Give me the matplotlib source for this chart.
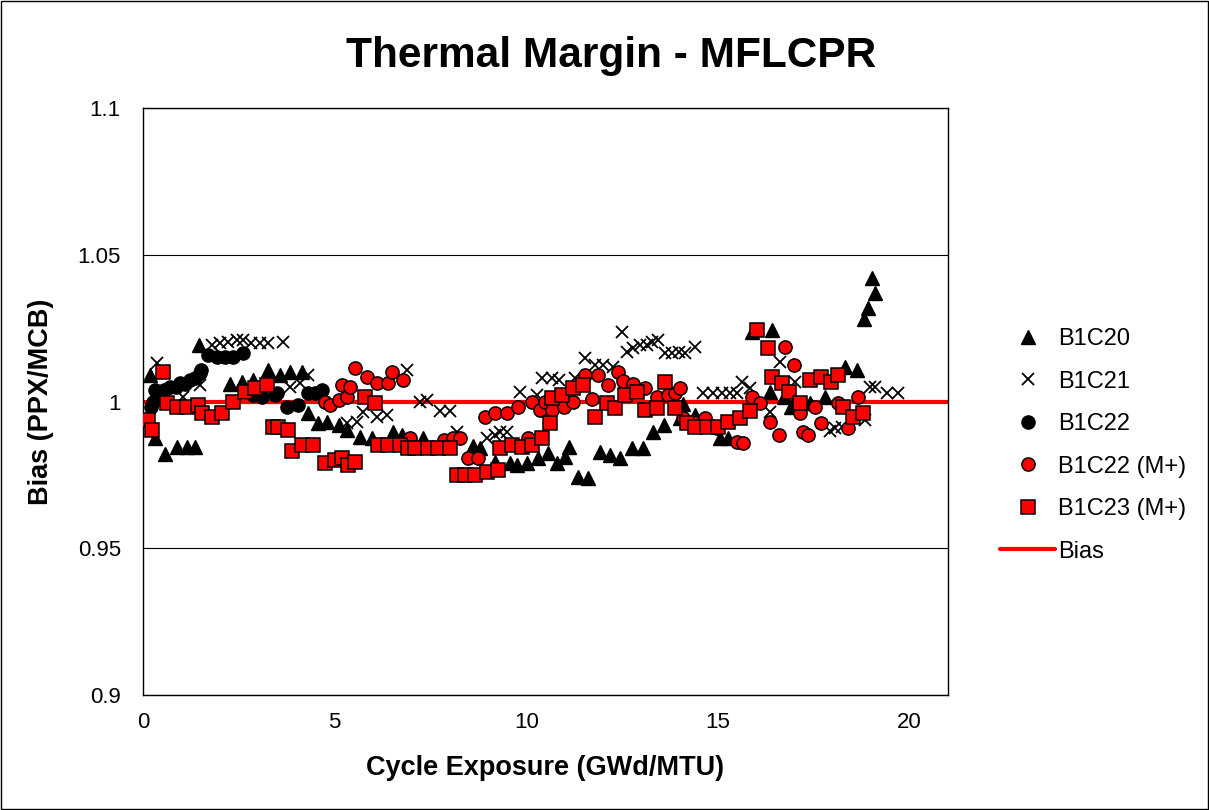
import matplotlib
matplotlib.use("Agg")
import matplotlib.pyplot as plt
from matplotlib.ticker import FuncFormatter, FixedLocator
from matplotlib.patches import Rectangle

plt.rcParams['font.family'] = ['Liberation Sans', 'DejaVu Sans']

# B1C20
x20 = [0.18, 0.31, 0.57, 0.88, 1.14, 1.36, 1.47, 2.27, 2.57, 2.88, 3.27, 3.57, 3.84, 4.14,
       4.31, 4.57, 4.79, 5.10, 5.31, 5.66, 5.97, 6.53, 6.75, 7.31, 8.62, 8.79, 9.18, 9.57,
       9.75, 10.01, 10.31, 10.57, 10.79, 11.01, 11.1, 11.36, 11.62, 11.92, 12.18, 12.44,
       12.75, 13.05, 13.31, 13.58, 14.0, 14.1, 14.4, 15.05, 15.27, 15.88, 16.4, 16.36,
       16.73, 16.9, 17.4, 17.79, 18.31, 18.62, 18.82, 18.92, 19.01, 19.1]
y20 = [1.009, 0.9875, 0.982, 0.9846, 0.9846, 0.9846, 1.0193, 1.0059, 1.0065, 1.0073, 1.0107,
       1.009, 1.0102, 1.0102, 0.996, 0.9926, 0.9931, 0.992, 0.9903, 0.988, 0.9875, 0.9897,
       0.9886, 0.9875, 0.985, 0.984, 0.9795, 0.979, 0.9784, 0.979, 0.9807, 0.9823, 0.979,
       0.981, 0.9846, 0.9744, 0.974, 0.9829, 0.9818, 0.9806, 0.984, 0.984, 0.9897, 0.992,
       0.9943, 0.999, 0.9954, 0.9875, 0.9875, 1.0238, 1.0244, 1.0034, 1.0015, 0.998, 0.9995,
       1.0016, 1.0119, 1.0107, 1.028, 1.0317, 1.042, 1.0368]

# B1C21
x21 = [0.36, 1.04, 1.49, 1.79, 2.01, 2.23, 2.44, 2.62, 2.83, 3.05, 3.27, 3.66, 3.83, 4.1,
       4.31, 5.31, 5.57, 5.75, 6.1, 6.36, 6.88, 7.23, 7.4, 7.75, 8.01, 8.18, 8.97, 9.18,
       9.31, 9.49, 9.84, 10.27, 10.4, 10.66, 10.84, 11.27, 11.53, 11.79, 12.01, 12.27,
       12.49, 12.62, 12.79, 12.97, 13.14, 13.27, 13.44, 13.62, 13.79, 13.97, 14.14, 14.4,
       14.62, 14.88, 15.1, 15.31, 15.49, 15.62, 15.84, 16.36, 16.62, 17.01, 17.92, 18.05,
       18.23, 18.83, 18.96, 19.1, 19.4, 19.7]
y21 = [1.013, 1.0015, 1.0056, 1.0192, 1.0198, 1.0204, 1.021, 1.021, 1.0198, 1.0198, 1.0198,
       1.0204, 1.0051, 1.0062, 1.009, 0.9926, 0.9931, 0.9965, 0.9948, 0.9954, 1.0107, 1.0,
       1.0005, 0.9966, 0.9966, 0.9897, 0.9875, 0.9886, 0.9897, 0.9897, 1.0034, 1.0022, 1.008,
       1.0079, 1.0073, 1.0079, 1.0147, 1.0124, 1.0124, 1.0119, 1.0238, 1.017, 1.0181, 1.0192,
       1.0192, 1.0204, 1.021, 1.0164, 1.0164, 1.017, 1.0164, 1.0187, 1.0028, 1.0028, 1.0028,
       1.0028, 1.0028, 1.0068, 1.0045, 0.9965, 1.0136, 1.0068, 0.990, 0.991, 0.9914, 0.9937,
       1.005, 1.005, 1.0028, 1.0028]

# B1C22
x22 = [0.2, 0.25, 0.3, 0.44, 0.55, 0.7, 0.85, 0.97, 1.1, 1.23, 1.35, 1.49, 1.52, 1.7, 1.92,
       2.14, 2.36, 2.62, 2.88, 3.1, 3.44, 3.49, 3.75, 4.05, 4.31, 4.49, 4.66]
y22 = [0.998, 1.0, 1.004, 1.003, 1.004, 1.005, 1.005, 1.0062, 1.006, 1.0073, 1.008, 1.0096,
       1.0107, 1.0158, 1.0153, 1.0153, 1.0153, 1.0164, 1.0022, 1.0017, 1.0022, 1.0028, 0.998,
       0.9988, 1.0028, 1.0028, 1.004]

# B1C22 (M+)
xr22 = [4.75, 4.88, 5.1, 5.18, 5.31, 5.4, 5.53, 5.84, 6.1, 6.4, 6.49, 6.79, 6.97, 7.84, 8.1,
        8.27, 8.49, 8.75, 8.92, 9.18, 9.49, 9.79, 10.05, 10.14, 10.36, 10.49, 10.66, 10.97,
        11.23, 11.53, 11.7, 11.88, 12.14, 12.4, 12.53, 12.79, 13.09, 13.4, 13.7, 13.88, 14.01,
        14.1, 14.36, 14.66, 14.97, 15.49, 15.66, 15.88, 16.1, 16.36, 16.58, 16.75, 16.97,
        17.14, 17.23, 17.36, 17.53, 17.7, 18.14, 18.4, 18.66]
yr22 = [1.0, 0.9988, 1.0005, 1.0056, 1.0017, 1.005, 1.0113, 1.0085, 1.0062, 1.0062, 1.0102,
        1.0073, 0.9875, 0.987, 0.9875, 0.9875, 0.9807, 0.9807, 0.9948, 0.996, 0.996, 0.9982,
        0.9875, 1.0, 0.9971, 1.0, 0.9971, 0.9982, 1.0, 1.009, 1.001, 1.009, 1.0056, 1.0102,
        1.007, 1.0058, 1.0045, 1.0017, 1.0022, 1.0028, 1.0045, 0.9943, 0.9931, 0.9943, 0.9909,
        0.9863, 0.9857, 1.0017, 0.9994, 0.9931, 0.9886, 1.0187, 1.0125, 0.996, 0.9897, 0.9886,
        0.998, 0.9926, 0.9994, 0.9909, 1.0016]

# B1C23 (M+)
xr23 = [0.14, 0.23, 0.53, 0.62, 0.88, 1.14, 1.44, 1.53, 1.79, 2.05, 2.36, 2.66, 2.92, 3.23,
        3.4, 3.53, 3.79, 3.88, 4.14, 4.44, 4.75, 5.01, 5.18, 5.36, 5.53, 5.79, 6.05, 6.14,
        6.4, 6.71, 6.92, 7.1, 7.44, 7.7, 8.01, 8.18, 8.4, 8.66, 8.97, 9.27, 9.31, 9.62, 9.88,
        10.14, 10.4, 10.62, 10.66, 10.92, 11.23, 11.49, 11.79, 12.1, 12.31, 12.57, 12.88,
        13.1, 13.4, 13.62, 13.88, 14.18, 14.4, 14.71, 15.01, 15.27, 15.57, 15.84, 16.01,
        16.31, 16.4, 16.66, 16.84, 17.14, 17.4, 17.68, 17.96, 18.14, 18.27, 18.53, 18.79]
yr23 = [0.9937, 0.9903, 1.0102, 0.9994, 0.9982, 0.9982, 0.9988, 0.996, 0.9948, 0.996, 1.0,
        1.0034, 1.0045, 1.0056, 0.9914, 0.9914, 0.9903, 0.983, 0.9852, 0.9852, 0.9789, 0.98,
        0.9806, 0.9784, 0.9795, 1.0017, 0.9994, 0.9852, 0.9852, 0.9852, 0.984, 0.984, 0.984,
        0.984, 0.984, 0.975, 0.975, 0.975, 0.9761, 0.9767, 0.984, 0.9852, 0.9846, 0.9852,
        0.9875, 0.9926, 1.0011, 1.0022, 1.0045, 1.0056, 0.9948, 0.9994, 0.9977, 1.0022,
        1.0034, 0.9971, 0.9977, 1.0068, 0.9977, 0.9926, 0.9914, 0.9914, 0.9914, 0.9931,
        0.9943, 0.9966, 1.0244, 1.0181, 1.0085, 1.0062, 1.0034, 0.9994, 1.0073, 1.0084,
        1.0067, 1.009, 0.9982, 0.9948, 0.996]

bias_x = [0, 21]
bias_y = [1.0, 1.0]

x_ticks = [0, 5, 10, 15, 20]
y_ticks = [0.9, 0.95, 1.0, 1.05, 1.1]

fig = plt.figure(figsize=(12.09, 8.10), dpi=100)
ax = fig.add_axes([143 / 1209, 1 - 695 / 810, (948 - 143) / 1209, (695 - 108) / 810])

ms = 9.5
mew = 1.1
ax.plot(bias_x, bias_y, color='#ff0000', lw=3, zorder=2, label='Bias', solid_capstyle='round')
ax.plot(x20, y20, ls='none', marker='^', ms=ms, color='black', zorder=3, label='B1C20')
ax.plot(x21, y21, ls='none', marker='x', ms=9, mew=1.3, color='black', zorder=3, label='B1C21')
ax.plot(x22, y22, ls='none', marker='o', ms=ms, color='black', zorder=3, label='B1C22')
ax.plot(xr22, yr22, ls='none', marker='o', ms=ms, mfc='#ff0000', mec='black', mew=mew,
        zorder=3, label='B1C22 (M+)')
ax.plot(xr23, yr23, ls='none', marker='s', ms=ms, mfc='#ff0000', mec='black', mew=mew,
        zorder=3, label='B1C23 (M+)')

ax.set_xlim(0, 21)
ax.set_ylim(0.9, 1.1)
ax.xaxis.set_major_locator(FixedLocator(x_ticks))
ax.yaxis.set_major_locator(FixedLocator(y_ticks))
ax.yaxis.set_major_formatter(FuncFormatter(lambda v, p: '%g' % round(v, 3)))
ax.tick_params(axis='both', length=0, labelsize=16)
ax.tick_params(axis='x', pad=12)
ax.tick_params(axis='y', pad=16)
ax.grid(axis='y', color='black', lw=0.8)
for s in ax.spines.values():
    s.set_color('black')
    s.set_linewidth(1.0)

ax.set_xlabel('Cycle Exposure (GWd/MTU)', fontsize=19.5, fontweight='bold', labelpad=16)
ax.set_ylabel('Bias (PPX/MCB)', fontsize=19.5, fontweight='bold', labelpad=17)
fig.text(0.5054, 0.931, 'Thermal Margin - MFLCPR', fontsize=30.5, fontweight='bold',
         ha='center', va='center')

h, l = ax.get_legend_handles_labels()
order = [1, 2, 3, 4, 5, 0]
fig.legend([h[i] for i in order], [l[i] for i in order], loc='upper left',
           bbox_to_anchor=(1000 / 1209, 1 - 328 / 810), frameon=False, fontsize=17,
           handlelength=2.33, handletextpad=0.13, labelspacing=0.87, borderpad=0,
           borderaxespad=0)

fig.add_artist(Rectangle((0.0008, 0.0012), 0.9984, 0.9976, transform=fig.transFigure,
                         fill=False, edgecolor='black', lw=1.0))

fig.savefig('out.png', dpi=100)
